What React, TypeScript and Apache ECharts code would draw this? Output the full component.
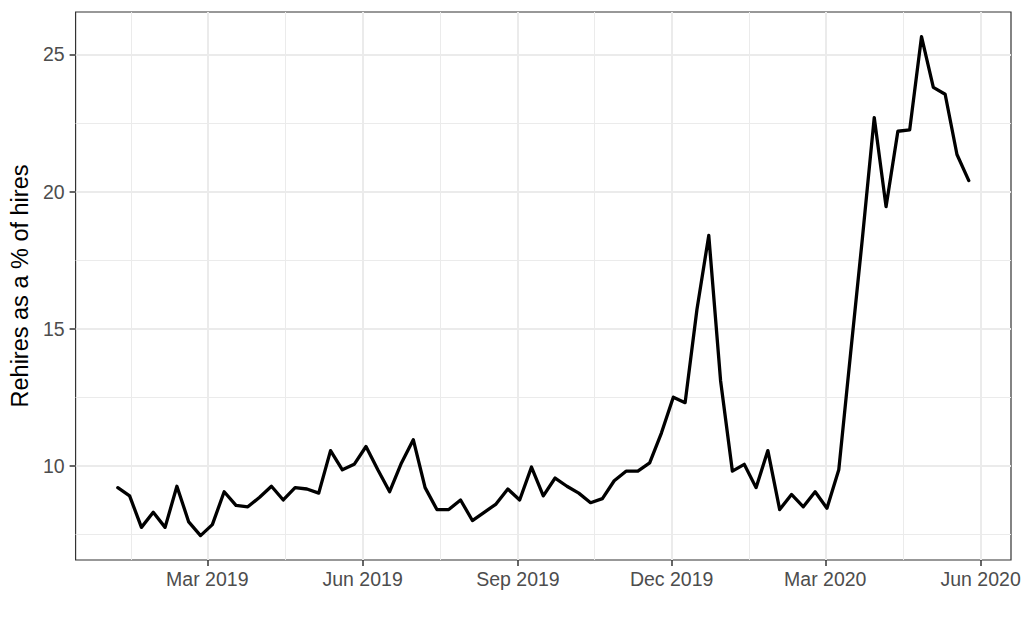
import React, { useEffect, useRef } from 'react';
import * as echarts from 'echarts';

// weekly observations, Jan 2019 - May 2020
const weekDates = [
  '2019-01-07', '2019-01-14', '2019-01-21', '2019-01-28',
  '2019-02-04', '2019-02-11', '2019-02-18', '2019-02-25',
  '2019-03-04', '2019-03-11', '2019-03-18', '2019-03-25',
  '2019-04-01', '2019-04-08', '2019-04-15', '2019-04-22', '2019-04-29',
  '2019-05-06', '2019-05-13', '2019-05-20', '2019-05-27',
  '2019-06-03', '2019-06-10', '2019-06-17', '2019-06-24',
  '2019-07-01', '2019-07-08', '2019-07-15', '2019-07-22', '2019-07-29',
  '2019-08-05', '2019-08-12', '2019-08-19', '2019-08-26',
  '2019-09-02', '2019-09-09', '2019-09-16', '2019-09-23', '2019-09-30',
  '2019-10-07', '2019-10-14', '2019-10-21', '2019-10-28',
  '2019-11-04', '2019-11-11', '2019-11-18', '2019-11-25',
  '2019-12-02', '2019-12-09', '2019-12-16', '2019-12-23', '2019-12-30',
  '2020-01-06', '2020-01-13', '2020-01-20', '2020-01-27',
  '2020-02-03', '2020-02-10', '2020-02-17', '2020-02-24',
  '2020-03-02', '2020-03-09', '2020-03-16', '2020-03-23', '2020-03-30',
  '2020-04-06', '2020-04-13', '2020-04-20', '2020-04-27',
  '2020-05-04', '2020-05-11', '2020-05-18', '2020-05-25',
];

const rehirePct = [
  9.2, 8.9, 7.75, 8.3, 7.75, 9.25, 7.95, 7.45,
  7.85, 9.05, 8.55, 8.5, 8.85, 9.25, 8.75, 9.2, 9.15,
  9.0, 10.55, 9.85, 10.05, 10.7, 9.85, 9.05, 10.1,
  10.95, 9.2, 8.4, 8.4, 8.75, 8.0, 8.3, 8.6, 9.15,
  8.75, 9.95, 8.9, 9.55, 9.25, 9.0, 8.65, 8.8, 9.45,
  9.8, 9.8, 10.1, 11.2, 12.5, 12.3, 15.7, 18.4, 13.1,
  9.8, 10.05, 9.2, 10.55, 8.4, 8.95, 8.5, 9.05,
  8.45, 9.85, 14.1, 18.3, 22.7, 19.45, 22.2, 22.25, 25.65,
  23.8, 23.55, 21.35, 20.4,
];

const xMajor = ['2019-03-01', '2019-06-01', '2019-09-01', '2019-12-01', '2020-03-01', '2020-06-01'];
const xMinor = ['2019-01-15', '2019-04-16', '2019-07-17', '2019-10-16', '2020-01-16', '2020-04-16'];
const yMajor = [10, 15, 20, 25];
const yMinor = [7.5, 12.5, 17.5, 22.5];

const xStart = '2018-12-13';
const xEnd = '2020-06-19';
const yMin = 6.56;
const yMax = 26.55;

const MONTHS = ['Jan', 'Feb', 'Mar', 'Apr', 'May', 'Jun', 'Jul', 'Aug', 'Sep', 'Oct', 'Nov', 'Dec'];
const ts = (s: string) => new Date(s + 'T00:00:00').getTime();
const FONT = '"Liberation Sans", Arial, Helvetica, sans-serif';

export default function App() {
  const chartRef = useRef<HTMLDivElement>(null);

  useEffect(() => {
    if (!chartRef.current) return;
    const chart = echarts.init(chartRef.current, null, { renderer: 'svg' });

    // dates go on a plain value axis (timestamps) so the ticks can sit on exact days
    const baseX = {
      type: 'value',
      min: ts(xStart),
      max: ts(xEnd),
      axisLine: { show: false },
    };
    const baseY = {
      type: 'value',
      min: yMin,
      max: yMax,
      axisLine: { show: false },
    };

    chart.setOption({
      animation: false,
      textStyle: { fontFamily: FONT },
      grid: {
        left: 74,
        right: 13,
        top: 12,
        bottom: 71,
        show: true,
        borderColor: '#333333',
        borderWidth: 1.2,
        backgroundColor: 'transparent',
      },
      xAxis: [
        {
          ...baseX,
          axisTick: {
            show: true,
            customValues: xMajor.map(ts),
            length: 6,
            lineStyle: { color: '#333333', width: 1.5 },
          },
          axisLabel: {
            customValues: xMajor.map(ts),
            fontSize: 19.5,
            color: '#4D4D4D',
            margin: 9,
            fontFamily: FONT,
            formatter: (v: number) => {
              const d = new Date(v);
              return MONTHS[d.getMonth()] + ' ' + d.getFullYear();
            },
          },
          splitLine: { show: true, lineStyle: { color: '#EBEBEB', width: 2 } },
        },
        {
          ...baseX,
          axisTick: { show: false, customValues: xMinor.map(ts) },
          axisLabel: { show: false },
          splitLine: { show: true, lineStyle: { color: '#EBEBEB', width: 1 } },
        },
      ],
      yAxis: [
        {
          ...baseY,
          name: 'Rehires as a % of hires',
          nameLocation: 'middle',
          nameGap: 42,
          nameTextStyle: { fontSize: 23.5, color: '#000000', fontFamily: FONT },
          axisTick: {
            show: true,
            customValues: yMajor,
            length: 6,
            lineStyle: { color: '#333333', width: 1.5 },
          },
          axisLabel: {
            customValues: yMajor,
            fontSize: 19.5,
            color: '#4D4D4D',
            margin: 11,
            fontFamily: FONT,
          },
          splitLine: { show: true, lineStyle: { color: '#EBEBEB', width: 2 } },
        },
        {
          ...baseY,
          axisTick: { show: false, customValues: yMinor },
          axisLabel: { show: false },
          splitLine: { show: true, lineStyle: { color: '#EBEBEB', width: 1 } },
        },
      ],
      series: [
        {
          type: 'line',
          xAxisIndex: 0,
          yAxisIndex: 0,
          data: weekDates.map((d, i) => [ts(d), rehirePct[i]]),
          showSymbol: false,
          lineStyle: { color: '#000000', width: 3.3, join: 'round', cap: 'round' },
          z: 10,
        },
      ],
    });

    return () => {
      chart.dispose();
    };
  }, []);

  return (
    <div
      ref={chartRef}
      style={{ position: 'fixed', left: 0, top: 0, width: '1024px', height: '631px', background: '#fff' }}
    ></div>
  );
}
